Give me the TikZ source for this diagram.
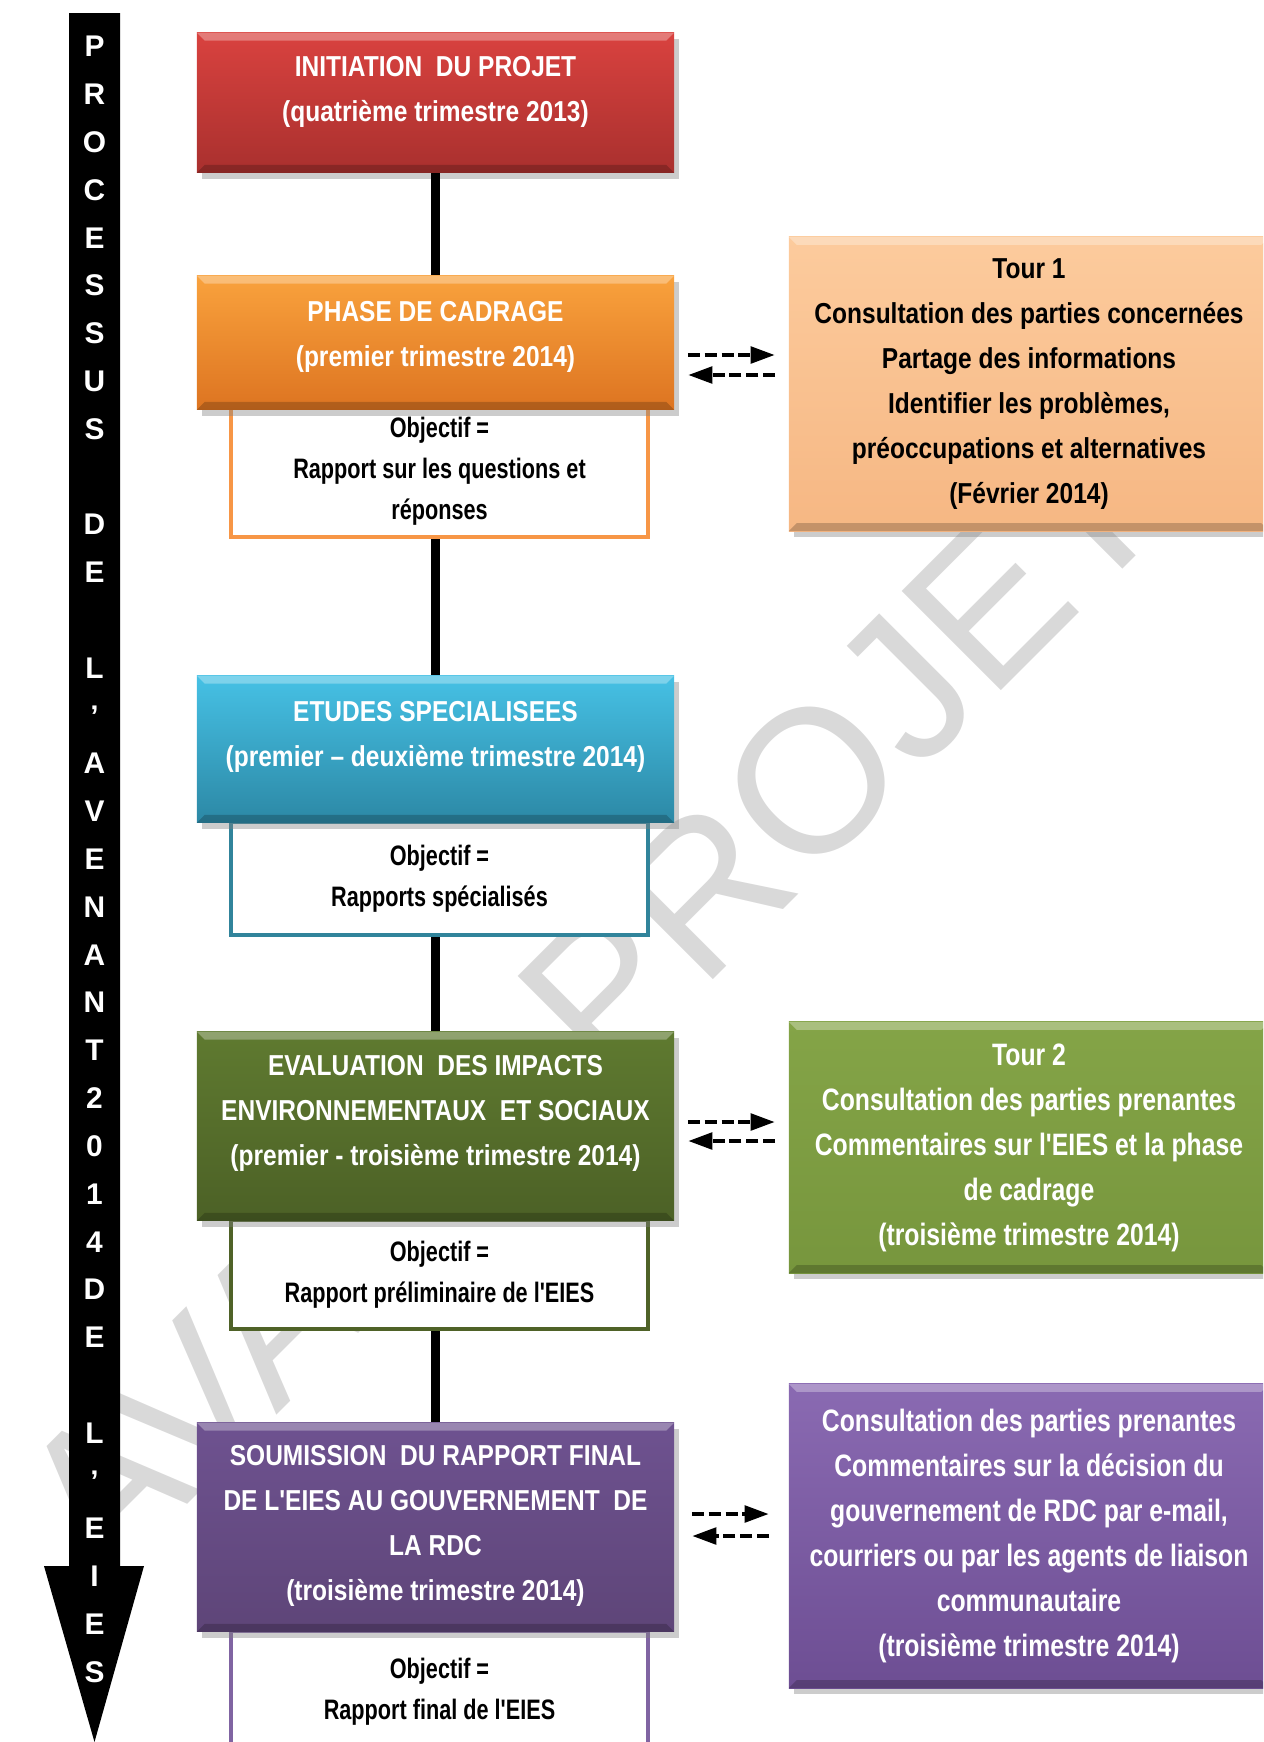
\documentclass[tikz,border=0pt]{standalone}
\usepackage{fontspec}
\setmainfont{Liberation Sans}
\newfontfamily\narrowfont[FakeStretch=0.85]{Liberation Sans}
\newfontfamily\slimfont[FakeStretch=0.80]{Liberation Sans}
\newfontfamily\objfont[FakeStretch=0.77]{Liberation Sans}
\usetikzlibrary{shadows,arrows.meta}

\definecolor{initTop}{HTML}{D9423F}
\definecolor{initBot}{HTML}{A9302E}
\definecolor{cadTop}{HTML}{F9A23D}
\definecolor{cadBot}{HTML}{DD7421}
\definecolor{etuTop}{HTML}{46C1E5}
\definecolor{etuBot}{HTML}{2C88A5}
\definecolor{eiesTop}{HTML}{5F7A30}
\definecolor{eiesBot}{HTML}{4C6126}
\definecolor{soumTop}{HTML}{6E5290}
\definecolor{soumBot}{HTML}{5E4578}
\definecolor{cadLine}{HTML}{F79646}
\definecolor{etuLine}{HTML}{31849B}
\definecolor{eiesLine}{HTML}{4F6228}
\definecolor{soumLine}{HTML}{8064A2}
\definecolor{tourATop}{HTML}{FCCB9D}
\definecolor{tourABot}{HTML}{F6B783}
\definecolor{tourBTop}{HTML}{84A447}
\definecolor{tourBBot}{HTML}{77963D}
\definecolor{consTop}{HTML}{8A6AB2}
\definecolor{consBot}{HTML}{6D4E93}

\tikzset{
  bevel/.style={path picture={
    \fill[white, opacity=0.3] (path picture bounding box.north west)
      -- (path picture bounding box.north east)
      -- ([xshift=-0.08cm, yshift=-0.08cm]path picture bounding box.north east)
      -- ([xshift=0.08cm, yshift=-0.08cm]path picture bounding box.north west) -- cycle;
    \fill[black, opacity=0.2] (path picture bounding box.south west)
      -- (path picture bounding box.south east)
      -- ([xshift=-0.08cm, yshift=0.08cm]path picture bounding box.south east)
      -- ([xshift=0.08cm, yshift=0.08cm]path picture bounding box.south west) -- cycle;}},
  phase/.style={minimum width=4.77cm, inner xsep=0pt, inner ysep=0pt, anchor=north,
    align=center, text=white, font=\narrowfont\bfseries\fontsize{8.2}{12.8}\selectfont,
    bevel, drop shadow={shadow xshift=0.05cm, shadow yshift=-0.06cm, opacity=0.4}},
  objectif/.style={draw=#1, line width=1.2pt, fill=white, minimum width=4.17cm,
    align=center, font=\objfont\bfseries\fontsize{8}{11.7}\selectfont},
  tour/.style={minimum width=4.8cm, inner sep=0pt, align=center, bevel,
    drop shadow={shadow xshift=0.05cm, shadow yshift=-0.06cm, opacity=0.4}},
  letter/.style={text=white, inner sep=0pt, font=\bfseries\fontsize{8.5}{8.5}\selectfont},
  link/.style={line width=2.6pt},
  dasharrow/.style={line width=1.4pt, dash pattern=on 3.4pt off 1.4pt,
    -{Triangle[length=7pt,width=4.6pt]}, shorten <=0.13cm, shorten >=0.13cm},
  watermark/.style={text=black!15, font=\fontsize{58}{58}\selectfont, rotate=45}
}

\begin{document}
\begin{tikzpicture}[x=0.01cm, y=-0.01cm]
    \useasboundingbox (0,0) rectangle (1263,1742);
    \clip (0,0) rectangle (1263,1742);

    % Watermark
    \node[watermark] (wm) at (590,1003) {AVANT-PROJET};

    % Process arrow
    \fill[black] (69,13) -- (120,13) -- (120,1566) -- (144,1566) -- (94.5,1742)
        -- (44,1566) -- (69,1566) -- cycle;
    \foreach \c [count=\i from 0] in {P,R,O,C,E,S,S,U,S,,D,E,,L,’,A,V,E,N,A,N,T,2,0,1,4,D,E,,L,’,E,I,E,S}
        \node[letter] (let\i) at (94.5,{46.7+47.8*\i}) {\c};

    % Objectives
    \node[objectif=cadLine, minimum height=1.24cm] (objcad) at (439.5,471)
        {Objectif =\\Rapport sur les questions et\\réponses};
    \node[objectif=etuLine, minimum height=1.13cm] (objetu) at (439.5,878.5)
        {Objectif =\\Rapports spécialisés};
    \node[objectif=eiesLine, minimum height=1.09cm] (objeies) at (439.5,1274.5)
        {Objectif =\\Rapport préliminaire de l'EIES};
    \node[objectif=soumLine, minimum height=1.21cm] (objsoum) at (439.5,1691.5)
        {Objectif =\\Rapport final de l'EIES};

    % Phases
    \node[phase, top color=initTop, bottom color=initBot, text height=0.89cm, text depth=0.51cm]
        (init) at (435.5,32) {INITIATION~ DU PROJET\\(quatrième trimestre 2013)};
    \node[phase, top color=cadTop, bottom color=cadBot, text height=0.91cm, text depth=0.43cm]
        (cadrage) at (435.5,275) {PHASE DE CADRAGE\\(premier trimestre 2014)};
    \node[phase, top color=etuTop, bottom color=etuBot, text height=0.91cm, text depth=0.56cm]
        (etudes) at (435.5,675) {ETUDES SPECIALISEES\\(premier – deuxième trimestre 2014)};
    \node[phase, top color=eiesTop, bottom color=eiesBot, text height=1.34cm, text depth=0.55cm]
        (eies) at (435.5,1031) {EVALUATION~ DES IMPACTS\\ENVIRONNEMENTAUX~ ET SOCIAUX\\(premier - troisième trimestre 2014)};
    \node[phase, top color=soumTop, bottom color=soumBot, text height=1.78cm, text depth=0.31cm]
        (soumis) at (435.5,1422) {SOUMISSION~ DU RAPPORT FINAL\\DE L'EIES AU GOUVERNEMENT~ DE\\LA RDC\\(troisième trimestre 2014)};

    % Consultations
    \node[tour, top color=tourATop, bottom color=tourABot, minimum height=2.94cm,
        font=\narrowfont\bfseries\fontsize{8.2}{12.8}\selectfont] (tour1) at (1029,384)
        {Tour 1\\Consultation des parties concernées\\Partage des informations\\Identifier les problèmes,\\préoccupations et alternatives\\(Février 2014)};
    \node[tour, top color=tourBTop, bottom color=tourBBot, minimum height=2.51cm, text=white,
        font=\slimfont\bfseries\fontsize{8.8}{12.8}\selectfont] (tour2) at (1029,1147.5)
        {Tour 2\\Consultation des parties prenantes\\Commentaires sur l'EIES et la phase\\de cadrage\\(troisième trimestre 2014)};
    \node[tour, top color=consTop, bottom color=consBot, minimum height=3.04cm, text=white,
        font=\slimfont\bfseries\fontsize{8.8}{12.8}\selectfont] (consult) at (1029,1536)
        {Consultation des parties prenantes\\Commentaires sur la décision du\\gouvernement de RDC par e-mail,\\courriers ou par les agents de liaison\\communautaire\\(troisième trimestre 2014)};

    % Links
    \draw[link] (init.south) -- (cadrage.north);
    \draw[link] (objcad.south -| etudes.north) -- (etudes.north);
    \draw[link] (objetu.south -| eies.north) -- (eies.north);
    \draw[link] (objeies.south -| soumis.north) -- (soumis.north);

    % Exchanges
    \draw[dasharrow] (cadrage.east |- 0,355) -- (tour1.west |- 0,355);
    \draw[dasharrow] (tour1.west |- 0,375) -- (cadrage.east |- 0,375);
    \draw[dasharrow] (eies.east |- 0,1122) -- (tour2.west |- 0,1122);
    \draw[dasharrow] (tour2.west |- 0,1141) -- (eies.east |- 0,1141);
    \draw[dasharrow, shorten <=0.17cm, shorten >=0.19cm] (soumis.east |- 0,1514) -- (consult.west |- 0,1514);
    \draw[dasharrow, shorten <=0.19cm, shorten >=0.17cm] (consult.west |- 0,1536) -- (soumis.east |- 0,1536);
\end{tikzpicture}
\end{document}
